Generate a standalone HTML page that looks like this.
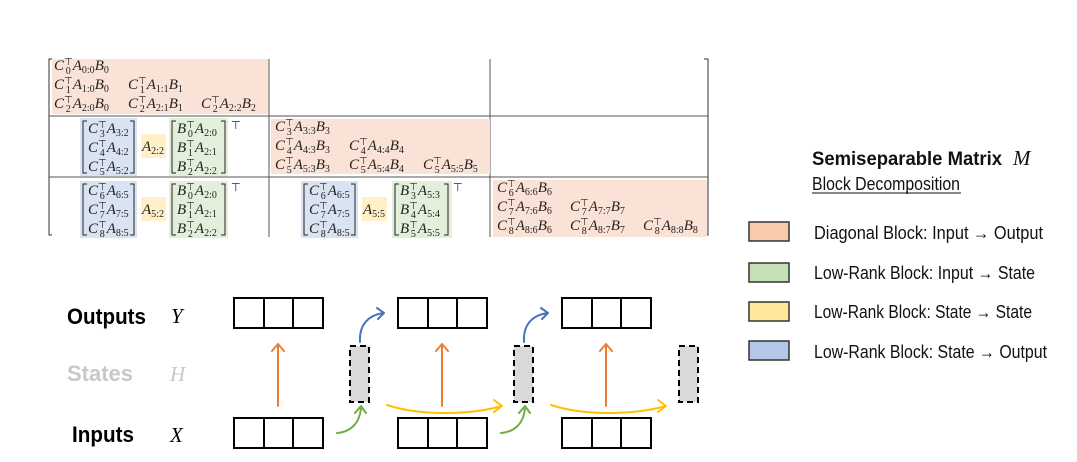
<!DOCTYPE html>
<html><head><meta charset="utf-8"><style>
html,body{margin:0;padding:0;background:#fff;}
svg{display:block}
.m{font-family:"Liberation Serif",serif;font-style:italic;font-size:15px;fill:#222}
.s{font-size:10px;font-style:normal}
.lab{font-family:"Liberation Sans Narrow","Liberation Sans",sans-serif;}
</style></head><body>
<svg width="1077" height="462" viewBox="0 0 1077 462" xmlns="http://www.w3.org/2000/svg">
<g fill="none" stroke="#333" stroke-width="1">
<path d="M52 59 H49 V235 H52"/>
<path d="M704 59 H708 V235 H704"/>
<line x1="49" y1="116" x2="708" y2="116" stroke="#555"/>
<line x1="49" y1="177" x2="708" y2="177" stroke="#555"/>
<line x1="269" y1="59" x2="269" y2="237" stroke="#555"/>
<line x1="490" y1="59" x2="490" y2="237" stroke="#555"/>
</g>
<rect x="52" y="59" width="216" height="55" fill="#fae3d6"/>
<rect x="271" y="119" width="219" height="55" fill="#fae3d6"/>
<rect x="493" y="180" width="214" height="57" fill="#fae3d6"/>
<rect x="80" y="118" width="57" height="58" fill="#dae3f2"/>
<rect x="80" y="181" width="57" height="57" fill="#dae3f2"/>
<rect x="301" y="181" width="57" height="57" fill="#dae3f2"/>
<rect x="169" y="118" width="59" height="58" fill="#e2efda"/>
<rect x="169" y="181" width="59" height="57" fill="#e2efda"/>
<rect x="392" y="181" width="60" height="57" fill="#e2efda"/>
<rect x="141" y="134" width="25" height="24" fill="#fff0c8"/>
<rect x="141" y="197" width="25" height="24" fill="#fff0c8"/>
<rect x="362" y="197" width="25" height="24" fill="#fff0c8"/>
<g fill="none" stroke="#222" stroke-width="1">
<path d="M87 121 H83 V173 H87"/><path d="M130 121 H134 V173 H130"/>
<path d="M176 121 H172 V173 H176"/><path d="M221 121 H225 V173 H221"/>
<path d="M87 184 H83 V235 H87"/><path d="M130 184 H134 V235 H130"/>
<path d="M176 184 H172 V235 H176"/><path d="M221 184 H225 V235 H221"/>
<path d="M308 184 H304 V235 H308"/><path d="M351 184 H355 V235 H351"/>
<path d="M399 184 H395 V235 H399"/><path d="M444 184 H448 V235 H444"/>
</g>
<text x="231" y="129" class="m s" style="font-size:11px">⊤</text>
<text x="231" y="191" class="m s" style="font-size:11px">⊤</text>
<text x="453" y="191" class="m s" style="font-size:11px">⊤</text>
<text x="54" y="70" class="m">C<tspan class="s" dy="-5">⊤</tspan><tspan class="s" dx="-7" dy="9">0</tspan><tspan dy="-4" dx="2">A</tspan><tspan class="s" dy="3">0:0</tspan><tspan dy="-3">B</tspan><tspan class="s" dy="3">0</tspan></text>
<text x="54" y="89" class="m">C<tspan class="s" dy="-5">⊤</tspan><tspan class="s" dx="-7" dy="9">1</tspan><tspan dy="-4" dx="2">A</tspan><tspan class="s" dy="3">1:0</tspan><tspan dy="-3">B</tspan><tspan class="s" dy="3">0</tspan></text>
<text x="128" y="89" class="m">C<tspan class="s" dy="-5">⊤</tspan><tspan class="s" dx="-7" dy="9">1</tspan><tspan dy="-4" dx="2">A</tspan><tspan class="s" dy="3">1:1</tspan><tspan dy="-3">B</tspan><tspan class="s" dy="3">1</tspan></text>
<text x="54" y="108" class="m">C<tspan class="s" dy="-5">⊤</tspan><tspan class="s" dx="-7" dy="9">2</tspan><tspan dy="-4" dx="2">A</tspan><tspan class="s" dy="3">2:0</tspan><tspan dy="-3">B</tspan><tspan class="s" dy="3">0</tspan></text>
<text x="128" y="108" class="m">C<tspan class="s" dy="-5">⊤</tspan><tspan class="s" dx="-7" dy="9">2</tspan><tspan dy="-4" dx="2">A</tspan><tspan class="s" dy="3">2:1</tspan><tspan dy="-3">B</tspan><tspan class="s" dy="3">1</tspan></text>
<text x="201" y="108" class="m">C<tspan class="s" dy="-5">⊤</tspan><tspan class="s" dx="-7" dy="9">2</tspan><tspan dy="-4" dx="2">A</tspan><tspan class="s" dy="3">2:2</tspan><tspan dy="-3">B</tspan><tspan class="s" dy="3">2</tspan></text>
<text x="275" y="131" class="m">C<tspan class="s" dy="-5">⊤</tspan><tspan class="s" dx="-7" dy="9">3</tspan><tspan dy="-4" dx="2">A</tspan><tspan class="s" dy="3">3:3</tspan><tspan dy="-3">B</tspan><tspan class="s" dy="3">3</tspan></text>
<text x="275" y="150" class="m">C<tspan class="s" dy="-5">⊤</tspan><tspan class="s" dx="-7" dy="9">4</tspan><tspan dy="-4" dx="2">A</tspan><tspan class="s" dy="3">4:3</tspan><tspan dy="-3">B</tspan><tspan class="s" dy="3">3</tspan></text>
<text x="349" y="150" class="m">C<tspan class="s" dy="-5">⊤</tspan><tspan class="s" dx="-7" dy="9">4</tspan><tspan dy="-4" dx="2">A</tspan><tspan class="s" dy="3">4:4</tspan><tspan dy="-3">B</tspan><tspan class="s" dy="3">4</tspan></text>
<text x="275" y="169" class="m">C<tspan class="s" dy="-5">⊤</tspan><tspan class="s" dx="-7" dy="9">5</tspan><tspan dy="-4" dx="2">A</tspan><tspan class="s" dy="3">5:3</tspan><tspan dy="-3">B</tspan><tspan class="s" dy="3">3</tspan></text>
<text x="349" y="169" class="m">C<tspan class="s" dy="-5">⊤</tspan><tspan class="s" dx="-7" dy="9">5</tspan><tspan dy="-4" dx="2">A</tspan><tspan class="s" dy="3">5:4</tspan><tspan dy="-3">B</tspan><tspan class="s" dy="3">4</tspan></text>
<text x="423" y="169" class="m">C<tspan class="s" dy="-5">⊤</tspan><tspan class="s" dx="-7" dy="9">5</tspan><tspan dy="-4" dx="2">A</tspan><tspan class="s" dy="3">5:5</tspan><tspan dy="-3">B</tspan><tspan class="s" dy="3">5</tspan></text>
<text x="497" y="192" class="m">C<tspan class="s" dy="-5">⊤</tspan><tspan class="s" dx="-7" dy="9">6</tspan><tspan dy="-4" dx="2">A</tspan><tspan class="s" dy="3">6:6</tspan><tspan dy="-3">B</tspan><tspan class="s" dy="3">6</tspan></text>
<text x="497" y="211" class="m">C<tspan class="s" dy="-5">⊤</tspan><tspan class="s" dx="-7" dy="9">7</tspan><tspan dy="-4" dx="2">A</tspan><tspan class="s" dy="3">7:6</tspan><tspan dy="-3">B</tspan><tspan class="s" dy="3">6</tspan></text>
<text x="570" y="211" class="m">C<tspan class="s" dy="-5">⊤</tspan><tspan class="s" dx="-7" dy="9">7</tspan><tspan dy="-4" dx="2">A</tspan><tspan class="s" dy="3">7:7</tspan><tspan dy="-3">B</tspan><tspan class="s" dy="3">7</tspan></text>
<text x="497" y="230" class="m">C<tspan class="s" dy="-5">⊤</tspan><tspan class="s" dx="-7" dy="9">8</tspan><tspan dy="-4" dx="2">A</tspan><tspan class="s" dy="3">8:6</tspan><tspan dy="-3">B</tspan><tspan class="s" dy="3">6</tspan></text>
<text x="570" y="230" class="m">C<tspan class="s" dy="-5">⊤</tspan><tspan class="s" dx="-7" dy="9">8</tspan><tspan dy="-4" dx="2">A</tspan><tspan class="s" dy="3">8:7</tspan><tspan dy="-3">B</tspan><tspan class="s" dy="3">7</tspan></text>
<text x="643" y="230" class="m">C<tspan class="s" dy="-5">⊤</tspan><tspan class="s" dx="-7" dy="9">8</tspan><tspan dy="-4" dx="2">A</tspan><tspan class="s" dy="3">8:8</tspan><tspan dy="-3">B</tspan><tspan class="s" dy="3">8</tspan></text>
<text x="88" y="133" class="m">C<tspan class="s" dy="-5">⊤</tspan><tspan class="s" dx="-7" dy="9">3</tspan><tspan dy="-4" dx="2">A</tspan><tspan class="s" dy="3">3:2</tspan></text>
<text x="88" y="152" class="m">C<tspan class="s" dy="-5">⊤</tspan><tspan class="s" dx="-7" dy="9">4</tspan><tspan dy="-4" dx="2">A</tspan><tspan class="s" dy="3">4:2</tspan></text>
<text x="88" y="171" class="m">C<tspan class="s" dy="-5">⊤</tspan><tspan class="s" dx="-7" dy="9">5</tspan><tspan dy="-4" dx="2">A</tspan><tspan class="s" dy="3">5:2</tspan></text>
<text x="142" y="151" class="m">A<tspan class="s" dy="3">2:2</tspan></text>
<text x="177" y="133" class="m">B<tspan class="s" dy="-5">⊤</tspan><tspan class="s" dx="-7" dy="9">0</tspan><tspan dy="-4" dx="2">A</tspan><tspan class="s" dy="3">2:0</tspan></text>
<text x="177" y="152" class="m">B<tspan class="s" dy="-5">⊤</tspan><tspan class="s" dx="-7" dy="9">1</tspan><tspan dy="-4" dx="2">A</tspan><tspan class="s" dy="3">2:1</tspan></text>
<text x="177" y="171" class="m">B<tspan class="s" dy="-5">⊤</tspan><tspan class="s" dx="-7" dy="9">2</tspan><tspan dy="-4" dx="2">A</tspan><tspan class="s" dy="3">2:2</tspan></text>
<text x="88" y="195" class="m">C<tspan class="s" dy="-5">⊤</tspan><tspan class="s" dx="-7" dy="9">6</tspan><tspan dy="-4" dx="2">A</tspan><tspan class="s" dy="3">6:5</tspan></text>
<text x="88" y="214" class="m">C<tspan class="s" dy="-5">⊤</tspan><tspan class="s" dx="-7" dy="9">7</tspan><tspan dy="-4" dx="2">A</tspan><tspan class="s" dy="3">7:5</tspan></text>
<text x="88" y="233" class="m">C<tspan class="s" dy="-5">⊤</tspan><tspan class="s" dx="-7" dy="9">8</tspan><tspan dy="-4" dx="2">A</tspan><tspan class="s" dy="3">8:5</tspan></text>
<text x="142" y="214" class="m">A<tspan class="s" dy="3">5:2</tspan></text>
<text x="177" y="195" class="m">B<tspan class="s" dy="-5">⊤</tspan><tspan class="s" dx="-7" dy="9">0</tspan><tspan dy="-4" dx="2">A</tspan><tspan class="s" dy="3">2:0</tspan></text>
<text x="177" y="214" class="m">B<tspan class="s" dy="-5">⊤</tspan><tspan class="s" dx="-7" dy="9">1</tspan><tspan dy="-4" dx="2">A</tspan><tspan class="s" dy="3">2:1</tspan></text>
<text x="177" y="233" class="m">B<tspan class="s" dy="-5">⊤</tspan><tspan class="s" dx="-7" dy="9">2</tspan><tspan dy="-4" dx="2">A</tspan><tspan class="s" dy="3">2:2</tspan></text>
<text x="309" y="195" class="m">C<tspan class="s" dy="-5">⊤</tspan><tspan class="s" dx="-7" dy="9">6</tspan><tspan dy="-4" dx="2">A</tspan><tspan class="s" dy="3">6:5</tspan></text>
<text x="309" y="214" class="m">C<tspan class="s" dy="-5">⊤</tspan><tspan class="s" dx="-7" dy="9">7</tspan><tspan dy="-4" dx="2">A</tspan><tspan class="s" dy="3">7:5</tspan></text>
<text x="309" y="233" class="m">C<tspan class="s" dy="-5">⊤</tspan><tspan class="s" dx="-7" dy="9">8</tspan><tspan dy="-4" dx="2">A</tspan><tspan class="s" dy="3">8:5</tspan></text>
<text x="363" y="214" class="m">A<tspan class="s" dy="3">5:5</tspan></text>
<text x="400" y="195" class="m">B<tspan class="s" dy="-5">⊤</tspan><tspan class="s" dx="-7" dy="9">3</tspan><tspan dy="-4" dx="2">A</tspan><tspan class="s" dy="3">5:3</tspan></text>
<text x="400" y="214" class="m">B<tspan class="s" dy="-5">⊤</tspan><tspan class="s" dx="-7" dy="9">4</tspan><tspan dy="-4" dx="2">A</tspan><tspan class="s" dy="3">5:4</tspan></text>
<text x="400" y="233" class="m">B<tspan class="s" dy="-5">⊤</tspan><tspan class="s" dx="-7" dy="9">5</tspan><tspan dy="-4" dx="2">A</tspan><tspan class="s" dy="3">5:5</tspan></text>

<text x="812" y="165" class="lab" font-weight="bold" font-size="19" fill="#111" textLength="190" lengthAdjust="spacingAndGlyphs">Semiseparable Matrix</text>
<text x="1013" y="165" font-family="Liberation Serif" font-style="italic" font-size="21" fill="#111">M</text>
<text x="812" y="190" class="lab" font-size="18" fill="#111" textLength="148" lengthAdjust="spacingAndGlyphs">Block Decomposition</text>
<line x1="812" y1="193" x2="961" y2="193" stroke="#111" stroke-width="1"/>
<g stroke="#333" stroke-width="1.5">
<rect x="749" y="222" width="40" height="19" fill="#f8cbad"/>
<rect x="749" y="263" width="40" height="19" fill="#c5e0b4"/>
<rect x="749" y="302" width="40" height="19" fill="#ffe699"/>
<rect x="749" y="341" width="40" height="19" fill="#b4c7e7"/>
</g>
<g class="lab" font-size="18" fill="#111">
<text x="814" y="239" textLength="229" lengthAdjust="spacingAndGlyphs">Diagonal Block: Input → Output</text>
<text x="814" y="279" textLength="221" lengthAdjust="spacingAndGlyphs">Low-Rank Block: Input → State</text>
<text x="814" y="318" textLength="218" lengthAdjust="spacingAndGlyphs">Low-Rank Block: State → State</text>
<text x="814" y="358" textLength="233" lengthAdjust="spacingAndGlyphs">Low-Rank Block: State → Output</text>
</g>

<text x="67" y="324" class="lab" font-weight="bold" font-size="22" fill="#000" textLength="79" lengthAdjust="spacingAndGlyphs">Outputs</text>
<text x="67" y="381" class="lab" font-weight="bold" font-size="22" fill="#c8c8c8" textLength="66" lengthAdjust="spacingAndGlyphs">States</text>
<text x="72" y="442" class="lab" font-weight="bold" font-size="22" fill="#000" textLength="62" lengthAdjust="spacingAndGlyphs">Inputs</text>
<text x="171" y="323" font-family="Liberation Serif" font-style="italic" font-size="21" fill="#000">Y</text>
<text x="170" y="381" font-family="Liberation Serif" font-style="italic" font-size="21" fill="#c8c8c8">H</text>
<text x="170" y="442" font-family="Liberation Serif" font-style="italic" font-size="21" fill="#000">X</text>

<g fill="none" stroke="#000" stroke-width="2">
<rect x="234" y="298" width="89" height="30"/><line x1="264" y1="298" x2="264" y2="328"/><line x1="293" y1="298" x2="293" y2="328"/>
<rect x="398" y="298" width="89" height="30"/><line x1="428" y1="298" x2="428" y2="328"/><line x1="457" y1="298" x2="457" y2="328"/>
<rect x="562" y="298" width="89" height="30"/><line x1="592" y1="298" x2="592" y2="328"/><line x1="621" y1="298" x2="621" y2="328"/>
<rect x="234" y="418" width="89" height="30"/><line x1="264" y1="418" x2="264" y2="448"/><line x1="293" y1="418" x2="293" y2="448"/>
<rect x="398" y="418" width="89" height="30"/><line x1="428" y1="418" x2="428" y2="448"/><line x1="457" y1="418" x2="457" y2="448"/>
<rect x="562" y="418" width="89" height="30"/><line x1="592" y1="418" x2="592" y2="448"/><line x1="621" y1="418" x2="621" y2="448"/>
</g>
<g fill="#d9d9d9" stroke="#000" stroke-width="2" stroke-dasharray="6,4">
<rect x="350" y="346" width="19" height="56"/>
<rect x="514" y="346" width="19" height="56"/>
<rect x="679" y="346" width="19" height="56"/>
</g>
<g fill="none" stroke-width="2" stroke-linecap="round" stroke-linejoin="round">
<g stroke="#ed7d31">
<path d="M278 406 V344 M272 351 L278 344 L284 351"/>
<path d="M442 406 V344 M436 351 L442 344 L448 351"/>
<path d="M606 406 V344 M600 351 L606 344 L612 351"/>
</g>
<g stroke="#4472c4">
<path d="M360 342 C359 325 368 315 384 313 M377 308 L384 313 L378 319"/>
<path d="M524 342 C523 325 532 315 548 313 M541 308 L548 313 L542 319"/>
</g>
<g stroke="#70ad47">
<path d="M337 433 C350 432 360 424 361 407 M355 413 L361 406 L366 413"/>
<path d="M501 433 C514 432 524 424 525 407 M519 413 L525 406 L530 413"/>
</g>
<g stroke="#ffc000">
<path d="M387 405 C420 416 470 415 502 406 M494 400 L502 406 L494 412"/>
<path d="M551 405 C584 416 634 415 666 406 M658 400 L666 406 L658 412"/>
</g>
</g>
</svg>
</body></html>
